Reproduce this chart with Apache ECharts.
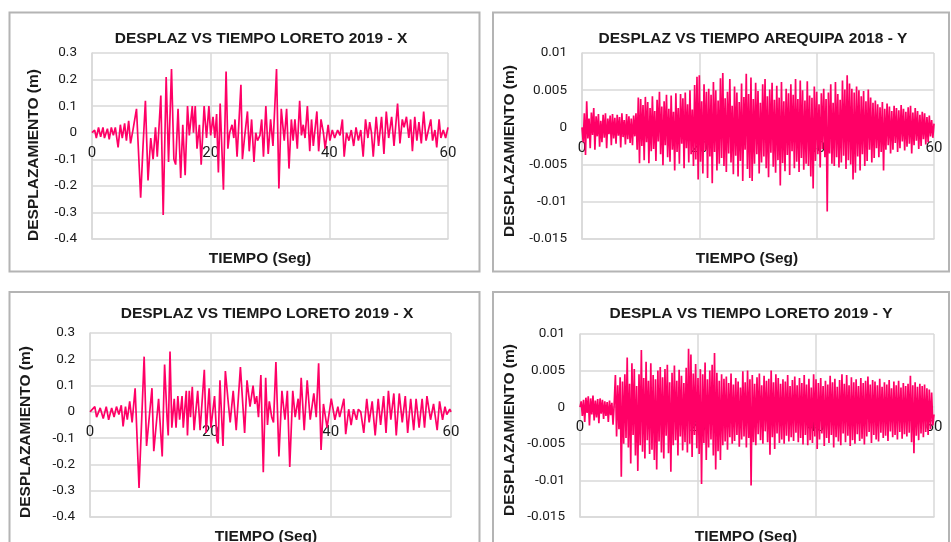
<!DOCTYPE html>
<html>
<head>
<meta charset="utf-8">
<title>desplazamientos</title>
<script src="https://cdn.jsdelivr.net/npm/echarts@6/dist/echarts.min.js"></script>
<style>
  html, body { margin: 0; padding: 0; background: #fff; }
  #charts { width: 951px; height: 542px; }
</style>
</head>
<body>
<div id="charts"></div>
<script>
// ejes
var ticksTiempo = [0, 20, 40, 60];
var ticksDespX = [-0.4, -0.3, -0.2, -0.1, 0, 0.1, 0.2, 0.3];
var ticksDespY = [-0.015, -0.01, -0.005, 0, 0.005, 0.01];

// Loreto 2019 - X (arriba), [tiempo s, desplazamiento m]
var loretoX1 = [[0,0],[0.45,0.01],[0.73,-0.02],[1.1,0.02],[1.46,-0.015],[1.85,0.02],[2.1,-0.02],[2.6,0.015],[2.9,-0.025],[3.26,0.02],
  [3.6,-0.01],[3.93,0.02],[4.4,-0.055],[4.78,0.03],[5.1,-0.02],[5.5,0.035],[5.8,-0.03],[6.18,0.045],[6.5,-0.04],[6.9,0.01],
  [7.5,0.09],[8.2,-0.245],[8.6,-0.05],[9.0,0.12],[9.44,-0.18],[9.9,-0.02],[10.3,-0.1],[10.7,0.02],[11.0,-0.09],[11.6,0.14],
  [12.0,-0.31],[12.5,0.21],[12.9,-0.11],[13.4,0.24],[13.8,-0.1],[14.1,-0.12],[14.5,0.09],[14.95,-0.17],[15.3,0.03],[15.7,-0.16],
  [16.1,0.1],[16.4,-0.01],[16.9,0.1],[17.1,0.0],[17.4,0.1],[17.7,-0.06],[18.1,0.03],[18.4,-0.12],[18.9,0.1],[19.3,-0.02],
  [19.7,0.1],[20.0,-0.01],[20.4,0.06],[20.7,-0.02],[21.0,0.07],[21.3,-0.15],[21.6,0.11],[22.15,-0.215],[22.6,0.23],[22.9,-0.06],
  [23.2,0.0],[23.6,0.03],[23.9,-0.02],[24.1,0.05],[24.45,-0.09],[25.1,0.18],[25.35,-0.1],[25.7,-0.02],[26.2,0.08],[26.5,-0.07],
  [26.9,0.05],[27.3,-0.11],[27.6,0.0],[27.9,-0.03],[28.3,-0.01],[28.6,0.05],[28.9,-0.09],[29.3,0.1],[29.7,-0.08],[30.1,0.05],
  [30.5,-0.05],[31.1,0.24],[31.5,-0.21],[31.9,0.09],[32.4,-0.03],[32.8,0.09],[33.2,-0.135],[33.6,0.05],[33.9,-0.03],[34.2,0.05],
  [34.6,-0.06],[35.0,0.12],[35.3,-0.01],[35.6,0.03],[35.9,-0.02],[36.3,0.1],[36.7,-0.07],[37.0,0.05],[37.3,-0.05],[37.9,0.08],
  [38.2,-0.07],[38.6,0.05],[39.0,0.0],[39.3,-0.06],[39.8,0.03],[40.1,-0.03],[40.5,0.01],[40.9,-0.02],[41.4,0.01],[41.8,-0.01],
  [42.2,0.05],[42.5,-0.09],[42.9,0.0],[43.3,-0.03],[43.7,0.01],[44.1,-0.05],[44.5,0.02],[44.9,-0.03],[45.3,0.01],[45.7,-0.09],
  [46.1,0.05],[46.5,-0.02],[46.8,0.04],[47.1,0.0],[47.4,-0.09],[47.9,0.06],[48.3,-0.05],[48.8,0.06],[49.2,-0.08],[49.6,0.08],
  [50.0,-0.02],[50.5,0.06],[50.9,-0.05],[51.5,0.11],[51.9,-0.04],[52.3,0.05],[52.6,0.02],[53.0,0.06],[53.4,-0.02],[53.7,0.05],
  [54.0,-0.07],[54.4,0.06],[54.75,-0.03],[55.1,0.04],[55.5,-0.04],[55.9,0.08],[56.3,-0.03],[56.7,0.01],[57.1,0.05],[57.4,-0.03],
  [57.8,0.01],[58.1,-0.055],[58.5,0.05],[58.8,-0.02],[59.2,0.01],[59.6,-0.02],[60.0,0.02]];

// Loreto 2019 - X (abajo)
var loretoX2 = [[0,0],[0.8,0.02],[1.1,-0.02],[1.7,0.015],[2.2,-0.025],[2.7,0.02],[3.1,-0.03],[3.6,0.015],[4.0,-0.02],[4.4,0.02],
  [4.8,-0.01],[5.2,0.025],[5.5,-0.055],[5.9,0.02],[6.2,-0.03],[6.6,0.04],[7.0,-0.04],[7.5,0.09],[8.15,-0.29],[9.0,0.21],
  [9.4,-0.13],[10.3,0.09],[10.6,-0.15],[11.4,0.05],[12.0,-0.17],[12.4,0.18],[12.8,-0.02],[13.0,-0.09],[13.3,0.23],[13.6,-0.06],
  [14.0,0.05],[14.3,-0.06],[14.6,0.06],[14.9,-0.03],[15.3,0.06],[15.5,-0.06],[16.0,0.08],[16.2,-0.09],[16.5,0.08],[16.7,-0.02],
  [17.0,0.095],[17.3,-0.07],[17.9,0.08],[18.3,-0.07],[19.0,0.16],[19.3,-0.08],[19.8,0.09],[20.1,-0.06],[20.7,0.06],[21.1,-0.11],
  [21.3,-0.12],[21.6,0.12],[22.1,-0.13],[22.5,0.155],[23.0,0.03],[23.3,-0.04],[23.8,0.08],[24.3,-0.07],[25.0,0.17],[25.7,-0.08],
  [26.1,0.12],[26.6,0.02],[27.1,0.1],[27.4,0.03],[27.7,0.06],[28.0,-0.02],[28.4,0.14],[28.8,-0.23],[29.2,0.13],[29.5,-0.05],
  [29.8,0.04],[30.2,-0.02],[30.5,-0.04],[30.9,0.19],[31.4,-0.17],[31.9,0.08],[32.4,-0.03],[32.8,0.08],[33.2,-0.21],[33.7,0.08],
  [34.1,-0.02],[34.6,0.05],[34.8,-0.03],[35.1,0.13],[35.6,-0.07],[36.1,0.12],[36.6,-0.03],[37.2,0.07],[37.6,-0.02],[38.0,0.185],
  [38.4,-0.145],[38.8,0.03],[39.4,-0.06],[40.1,0.05],[40.7,-0.03],[41.2,0.02],[41.5,-0.02],[42.2,0.05],[42.5,-0.085],[43.0,0.01],
  [43.4,-0.05],[43.8,0.01],[44.3,-0.03],[44.6,0.01],[45.0,0.0],[45.5,-0.08],[46.0,0.05],[46.4,-0.04],[46.9,0.04],[47.4,-0.09],
  [47.9,0.05],[48.3,-0.05],[48.8,0.06],[49.2,-0.08],[49.6,0.08],[50.0,-0.03],[50.5,0.07],[50.9,-0.09],[51.4,0.07],[51.9,-0.04],
  [52.4,0.06],[52.8,-0.08],[53.3,0.05],[53.8,-0.07],[54.2,0.05],[54.7,-0.06],[55.2,0.05],[55.6,-0.06],[56.0,0.06],[56.6,-0.03],
  [57.1,0.03],[57.7,-0.07],[58.1,0.04],[58.6,-0.03],[59.0,0.02],[59.3,-0.01],[59.8,0.01],[60,0.0]];

// registros Y: un valor cada 0.2 s (m)
var pasoY = 0.2;
var arequipaY = [
  0, -0.0020, 0.0019, -0.0037, 0.0035, -0.0015, 0.0012, -0.0028, 0.0020, -0.0010,
  0.0026, -0.0030, 0.0015, -0.0012, 0.0018, -0.0026, 0.0009, -0.0020, 0.0017, -0.0014,
  0.0019, -0.0028, 0.0012, -0.0009, 0.0016, -0.0024, 0.0018, -0.0015, 0.0013, -0.0022,
  0.0017, -0.0011, 0.0014, -0.0027, 0.0019, -0.0013, 0.0010, -0.0023, 0.0018, -0.0016,
  0.0015, -0.0021, 0.0012, -0.0024, 0.0016, -0.0012, 0.0019, -0.0030, 0.0040, -0.0048,
  0.0038, -0.0025, 0.0030, -0.0044, 0.0041, -0.0020, 0.0034, -0.0048, 0.0026, -0.0032,
  0.0042, -0.0029, 0.0022, -0.0045, 0.0037, -0.0019, 0.0048, -0.0036, 0.0028, -0.0051,
  0.0035, -0.0024, 0.0044, -0.0040, 0.0025, -0.0046, 0.0043, -0.0030, 0.0021, -0.0058,
  0.0046, -0.0033, 0.0026, -0.0049, 0.0045, -0.0022, 0.0039, -0.0055, 0.0047, -0.0028,
  0.0031, -0.0047, 0.0050, -0.0036, 0.0024, -0.0052, 0.0057, -0.0043, 0.0068, -0.0070,
  0.0070, -0.0046, 0.0035, -0.0062, 0.0058, -0.0031, 0.0048, -0.0068, 0.0052, -0.0039,
  0.0044, -0.0075, 0.0061, -0.0033, 0.0050, -0.0058, 0.0036, -0.0049, 0.0066, -0.0041,
  0.0073, -0.0052, 0.0039, -0.0060, 0.0048, -0.0035, 0.0065, -0.0047, 0.0029, -0.0063,
  0.0055, -0.0038, 0.0047, -0.0066, 0.0034, -0.0045, 0.0059, -0.0072, 0.0041, -0.0030,
  0.0072, -0.0056, 0.0045, -0.0068, 0.0067, -0.0072, 0.0038, -0.0049, 0.0060, -0.0036,
  0.0049, -0.0062, 0.0033, -0.0047, 0.0058, -0.0039, 0.0065, -0.0055, 0.0042, -0.0067,
  0.0051, -0.0034, 0.0060, -0.0053, 0.0037, -0.0061, 0.0056, -0.0044, 0.0040, -0.0078,
  0.0061, -0.0048, 0.0035, -0.0059, 0.0052, -0.0037, 0.0046, -0.0064, 0.0058, -0.0032,
  0.0044, -0.0055, 0.0065, -0.0046, 0.0038, -0.0060, 0.0063, -0.0041, 0.0050, -0.0057,
  0.0036, -0.0049, 0.0062, -0.0052, 0.0043, -0.0066, 0.0040, -0.0082, 0.0055, -0.0045,
  0.0048, -0.0036, 0.0031, -0.0054, 0.0046, -0.0029, 0.0052, -0.0040, 0.0038, -0.0113,
  0.0047, -0.0035, 0.0058, -0.0049, 0.0033, -0.0052, 0.0061, -0.0040, 0.0045, -0.0054,
  0.0037, -0.0047, 0.0063, -0.0038, 0.0051, -0.0056, 0.0070, -0.0044, 0.0059, -0.0050,
  0.0052, -0.0070, 0.0047, -0.0061, 0.0055, -0.0039, 0.0050, -0.0058, 0.0042, -0.0036,
  0.0049, -0.0052, 0.0035, -0.0045, 0.0051, -0.0030, 0.0040, -0.0047, 0.0033, -0.0041,
  0.0036, -0.0028, 0.0031, -0.0040, 0.0027, -0.0033, 0.0034, -0.0058, 0.0025, -0.0030,
  0.0032, -0.0024, 0.0028, -0.0035, 0.0022, -0.0030, 0.0029, -0.0021, 0.0026, -0.0033,
  0.0023, -0.0028, 0.0030, -0.0019, 0.0025, -0.0031, 0.0021, -0.0026, 0.0027, -0.0022,
  0.0029, -0.0035, 0.0020, -0.0024, 0.0026, -0.0018, 0.0022, -0.0029, 0.0017, -0.0025,
  0.0021, -0.0016, 0.0019, -0.0023, 0.0014, -0.0020, 0.0016, -0.0012, 0.0010, -0.0014,
  0.0005];

var loretoY = [
  0, 0.0008, -0.0012, 0.0010, -0.0020, 0.0013, -0.0008, 0.0015, -0.0025, 0.0012,
  -0.0010, 0.0016, -0.0018, 0.0009, -0.0014, 0.0011, -0.0022, 0.0012, -0.0009, 0.0010,
  -0.0016, 0.0008, -0.0012, 0.0007, -0.0020, 0.0009, -0.0011, 0.0006, -0.0024, 0.0005,
  0.0044, -0.0040, 0.0030, -0.0030, 0.0041, -0.0095, 0.0035, -0.0050, 0.0045, -0.0042,
  0.0068, -0.0055, 0.0032, -0.0077, 0.0060, -0.0038, 0.0052, -0.0066, 0.0029, -0.0087,
  0.0045, -0.0052, 0.0078, -0.0061, 0.0040, -0.0070, 0.0062, -0.0045, 0.0036, -0.0064,
  0.0060, -0.0058, 0.0044, -0.0072, 0.0038, -0.0085, 0.0050, -0.0047, 0.0055, -0.0062,
  0.0041, -0.0070, 0.0052, -0.0039, 0.0058, -0.0063, 0.0034, -0.0088, 0.0047, -0.0052,
  0.0057, -0.0045, 0.0036, -0.0066, 0.0051, -0.0040, 0.0043, -0.0059, 0.0033, -0.0048,
  0.0054, -0.0062, 0.0080, -0.0050, 0.0072, -0.0068, 0.0046, -0.0038, 0.0059, -0.0056,
  0.0040, -0.0064, 0.0052, -0.0105, 0.0045, -0.0049, 0.0061, -0.0072, 0.0038, -0.0055,
  0.0050, -0.0044, 0.0058, -0.0066, 0.0074, -0.0085, 0.0047, -0.0060, 0.0036, -0.0072,
  0.0045, -0.0052, 0.0039, -0.0047, 0.0042, -0.0058, 0.0033, -0.0041, 0.0046, -0.0050,
  0.0031, -0.0046, 0.0040, -0.0038, 0.0035, -0.0054, 0.0027, -0.0044, 0.0049, -0.0040,
  0.0034, -0.0055, 0.0050, -0.0042, 0.0038, -0.0107, 0.0044, -0.0048, 0.0032, -0.0052,
  0.0041, -0.0037, 0.0046, -0.0045, 0.0030, -0.0050, 0.0043, -0.0033, 0.0036, -0.0048,
  0.0039, -0.0065, 0.0050, -0.0041, 0.0034, -0.0057, 0.0045, -0.0036, 0.0040, -0.0049,
  0.0032, -0.0044, 0.0038, -0.0050, 0.0035, -0.0039, 0.0044, -0.0047, 0.0029, -0.0041,
  0.0037, -0.0046, 0.0042, -0.0035, 0.0030, -0.0048, 0.0040, -0.0042, 0.0033, -0.0051,
  0.0044, -0.0038, 0.0031, -0.0052, 0.0039, -0.0045, 0.0027, -0.0049, 0.0045, -0.0040,
  0.0038, -0.0057, 0.0033, -0.0044, 0.0040, -0.0036, 0.0029, -0.0053, 0.0036, -0.0042,
  0.0031, -0.0049, 0.0043, -0.0038, 0.0034, -0.0055, 0.0039, -0.0041, 0.0028, -0.0047,
  0.0037, -0.0052, 0.0045, -0.0036, 0.0032, -0.0048, 0.0044, -0.0039, 0.0030, -0.0053,
  0.0041, -0.0045, 0.0034, -0.0050, 0.0038, -0.0037, 0.0029, -0.0046, 0.0040, -0.0043,
  0.0033, -0.0051, 0.0036, -0.0040, 0.0042, -0.0034, 0.0031, -0.0049, 0.0037, -0.0038,
  0.0035, -0.0044, 0.0030, -0.0047, 0.0039, -0.0035, 0.0028, -0.0042, 0.0034, -0.0039,
  0.0031, -0.0046, 0.0037, -0.0033, 0.0026, -0.0041, 0.0035, -0.0038, 0.0030, -0.0044,
  0.0036, -0.0034, 0.0027, -0.0043, 0.0033, -0.0037, 0.0029, -0.0040, 0.0032, -0.0035,
  0.0043, -0.0048, 0.0030, -0.0063, 0.0034, -0.0039, 0.0028, -0.0045, 0.0032, -0.0036,
  0.0029, -0.0041, 0.0031, -0.0034, 0.0026, -0.0038, 0.0024, -0.0030, 0.0020, -0.0025,
  -0.0010];

var titulos = ['DESPLAZ VS TIEMPO LORETO 2019 - X', 'DESPLAZ VS TIEMPO AREQUIPA 2018 - Y',
               'DESPLAZ VS TIEMPO LORETO 2019 - X', 'DESPLA VS TIEMPO LORETO 2019 - Y'];

window.onload = function () {
    get_chart();
};

function con_tiempo(valores) {
    return valores.map(function (v, i) { return [Math.round(i * pasoY * 10) / 10, v]; });
}

function get_chart() {
    var myChart = echarts.init(document.getElementById('charts'), null, {renderer: 'canvas'});
    myChart.setOption(get_option());
}

function get_option() {
    var rosa = '#ff0066';
    var gris = '#d9d9d9';
    var texto = '#1a1a1a';
    var fuente = 'bold 15.5px "Liberation Sans", Arial, sans-serif';

    // paneles: grid, ticks y datos
    var paneles = [
        {grid: {left: 92, top: 53, width: 356, height: 186}, ticks: ticksDespX, dec: 1, data: loretoX1,
         tit: [261, 39], nomY: [34, 155], nomX: [260, 259], caja: [9.5, 12.5, 470, 259]},
        {grid: {left: 582, top: 53, width: 352, height: 186}, ticks: ticksDespY, dec: 3, data: con_tiempo(arequipaY),
         tit: [753, 39], nomY: [510, 151], nomX: [747, 259], caja: [493, 12.5, 456, 259]},
        {grid: {left: 90, top: 333, width: 361, height: 184}, ticks: ticksDespX, dec: 1, data: loretoX2,
         tit: [267, 314], nomY: [26, 432], nomX: [266, 537], caja: [9.5, 292, 470, 300]},
        {grid: {left: 580, top: 334, width: 354, height: 183}, ticks: ticksDespY, dec: 3, data: con_tiempo(loretoY),
         tit: [751, 314], nomY: [510, 430], nomX: [746, 537], caja: [493, 292, 456, 300]}
    ];

    var grids = [], xAxes = [], xBordes = [], yAxes = [], series = [], graficos = [];
    paneles.forEach(function (p, i) {
        var yMin = p.ticks[0], yMax = p.ticks[p.ticks.length - 1];
        // el eje X cruza en y = 0, como en Excel
        var subida = p.grid.height * (0 - yMin) / (yMax - yMin);
        grids.push(p.grid);
        xAxes.push({
            type: 'value', gridIndex: i,
            min: ticksTiempo[0], max: ticksTiempo[ticksTiempo.length - 1],
            interval: ticksTiempo[1] - ticksTiempo[0],
            offset: -subida,
            axisLine: {onZero: false, lineStyle: {color: gris, width: 1.5}},
            axisTick: {show: false},
            axisLabel: {margin: 13, fontFamily: 'Roboto', fontSize: 15, color: texto},
            splitLine: {show: true, lineStyle: {color: gris, width: 1.5}}
        });
        // linea inferior del area (-0.4 / -0.015)
        xBordes.push({
            type: 'value', gridIndex: i, position: 'bottom',
            min: ticksTiempo[0], max: ticksTiempo[ticksTiempo.length - 1],
            axisLine: {onZero: false, lineStyle: {color: gris, width: 1.5}},
            axisTick: {show: false}, axisLabel: {show: false}, splitLine: {show: false}
        });
        var paso = Math.round((p.ticks[1] - p.ticks[0]) * 1000) / 1000;
        yAxes.push({
            type: 'value', gridIndex: i,
            min: yMin, max: yMax, interval: paso,
            axisLine: {show: true, lineStyle: {color: gris, width: 1.5}},
            axisTick: {show: false},
            axisLabel: {
                margin: 15, fontFamily: 'Roboto', fontSize: 13.5, color: texto,
                formatter: function (v) { return String(+v.toFixed(p.dec)); }
            },
            splitLine: {show: true, lineStyle: {color: gris, width: 1.5}}
        });
        series.push({
            type: 'line', xAxisIndex: i, yAxisIndex: i,
            data: p.data, showSymbol: false, symbol: 'none',
            lineStyle: {color: rosa, width: 1.7}
        });
        graficos.push({
            type: 'rect', silent: true,
            shape: {x: p.caja[0], y: p.caja[1], width: p.caja[2], height: p.caja[3]},
            style: {fill: 'none', stroke: '#b4b4b4', lineWidth: 2}
        });
        graficos.push({
            type: 'text', x: p.tit[0], y: p.tit[1],
            style: {text: titulos[i], font: fuente, fill: texto, align: 'center', verticalAlign: 'middle'}
        });
        graficos.push({
            type: 'text', x: p.nomY[0], y: p.nomY[1], rotation: Math.PI / 2,
            style: {text: 'DESPLAZAMIENTO (m)', font: fuente, fill: texto, align: 'center', verticalAlign: 'middle'}
        });
        graficos.push({
            type: 'text', x: p.nomX[0], y: p.nomX[1],
            style: {text: 'TIEMPO (Seg)', font: fuente, fill: texto, align: 'center', verticalAlign: 'middle'}
        });
    });

    return {
        backgroundColor: '#ffffff',
        animation: false,
        grid: grids,
        xAxis: xAxes.concat(xBordes),
        yAxis: yAxes,
        series: series,
        graphic: graficos
    };
}
</script>
</body>
</html>
